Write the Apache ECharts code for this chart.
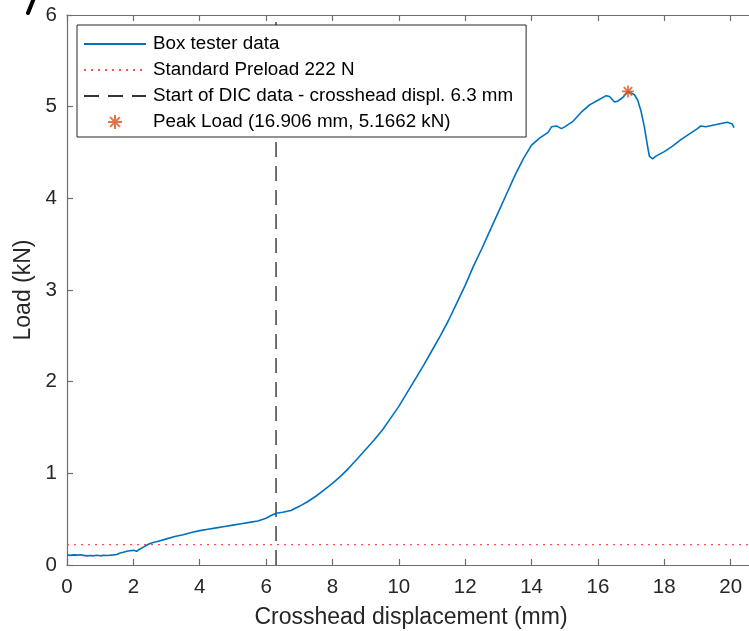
<!DOCTYPE html>
<html>
<head>
<meta charset="utf-8">
<script src="https://cdn.jsdelivr.net/npm/echarts@6/dist/echarts.min.js"></script>
<style>
  html, body { margin: 0; padding: 0; background: #fff; overflow: hidden; }
  #chart { width: 749px; height: 631px; }
</style>
</head>
<body>
<div id="chart"></div>
<script>
// Crosshead displacement (mm) and measured load (kN) from the box tester
const dispMm = [
  0, 0.1, 0.2, 0.3, 0.4, 0.5, 0.6, 0.7, 0.8, 0.9, 1.0, 1.1, 1.2, 1.3, 1.4, 1.5,
  1.6, 1.7, 1.8, 1.9, 2.0, 2.1, 2.2, 2.3, 2.4, 2.5, 2.6, 2.75, 3.0, 3.25, 3.5,
  3.75, 4.0, 4.25, 4.5, 4.75, 5.0, 5.25, 5.5, 5.75, 6.0, 6.15, 6.3, 6.5, 6.75,
  7.0, 7.25, 7.5, 7.75, 8.0, 8.25, 8.5, 8.75, 9.0, 9.25, 9.5, 9.75, 10.0, 10.25,
  10.5, 10.75, 11.0, 11.25, 11.5, 11.75, 12.0, 12.25, 12.5, 12.75, 13.0, 13.25,
  13.5, 13.75, 14.0, 14.25, 14.5, 14.6, 14.75, 14.9, 15.0, 15.25, 15.5, 15.75,
  16.0, 16.25, 16.35, 16.5, 16.6, 16.75, 16.906, 17.0, 17.1, 17.2, 17.3, 17.4,
  17.5, 17.55, 17.65, 17.75, 18.0, 18.25, 18.5, 18.75, 19.0, 19.1, 19.25, 19.5,
  19.75, 19.9, 20.05, 20.1
];
const loadKN = [
  0.11, 0.105, 0.11, 0.108, 0.112, 0.105, 0.1, 0.104, 0.1, 0.106, 0.1, 0.105, 0.103, 0.107, 0.11, 0.115,
  0.13, 0.14, 0.15, 0.155, 0.16, 0.15, 0.175, 0.195, 0.215, 0.235, 0.245, 0.26, 0.285, 0.31, 0.33,
  0.355, 0.375, 0.39, 0.405, 0.42, 0.435, 0.45, 0.465, 0.48, 0.51, 0.54, 0.565, 0.575, 0.595,
  0.64, 0.69, 0.75, 0.82, 0.89, 0.97, 1.06, 1.16, 1.26, 1.36, 1.47, 1.6, 1.73, 1.88,
  2.03, 2.18, 2.34, 2.5, 2.67, 2.86, 3.05, 3.26, 3.45, 3.65, 3.85, 4.05,
  4.25, 4.43, 4.58, 4.66, 4.72, 4.78, 4.79, 4.76, 4.78, 4.84, 4.94, 5.02,
  5.07, 5.12, 5.11, 5.05, 5.06, 5.1, 5.1662, 5.15, 5.13, 5.07, 4.95, 4.78,
  4.56, 4.46, 4.43, 4.46, 4.51, 4.57, 4.64, 4.7, 4.76, 4.79, 4.78, 4.8,
  4.82, 4.83, 4.81, 4.77
];

// Reference levels
const preloadKN = 0.222;
const dicStartMm = 6.3;
const peakPoint = [16.906, 5.1662];

const xTicks = { min: 0, max: 22, interval: 2 };
const yTicks = { min: 0, max: 6, interval: 1 };

const seriesNames = [
  'Box tester data',
  'Standard Preload 222 N',
  'Start of DIC data - crosshead displ. 6.3 mm',
  'Peak Load (16.906 mm, 5.1662 kN)'
];

const FONT = '"Liberation Sans", Arial, sans-serif';
const AXIS_GRAY = '#6e6e6e';
const TEXT_COLOR = '#262626';

const curve = dispMm.map((x, i) => [x, loadKN[i]]);
const asterisk = 'path://M0,-10L0,10M-10,0L10,0M-7,-7L7,7M-7,7L7,-7';
const noMarker = { opacity: 0 };

const chart = echarts.init(document.getElementById('chart'), null, { renderer: 'canvas' });

chart.setOption({
  backgroundColor: '#ffffff',
  animation: false,
  textStyle: { fontFamily: FONT },
  // the axes box continues past the right edge of the canvas
  grid: { left: 67, top: 15, width: 730, height: 550, containLabel: false, outerBoundsMode: 'none' },
  legend: {
    orient: 'vertical',
    left: 77,
    top: 25,
    data: [
      { name: seriesNames[0], itemStyle: noMarker },
      { name: seriesNames[1], itemStyle: noMarker },
      { name: seriesNames[2], itemStyle: noMarker },
      { name: seriesNames[3] }
    ],
    itemWidth: 62,
    itemHeight: 14,
    itemGap: 6,
    padding: [9, 13, 5, 6],
    borderColor: '#262626',
    borderWidth: 1,
    backgroundColor: '#ffffff',
    selectedMode: false,
    textStyle: { fontFamily: FONT, fontSize: 18.8, color: '#000', lineHeight: 20, padding: [0, 0, 0, 2] }
  },
  xAxis: [
    {
      type: 'value', position: 'bottom',
      min: xTicks.min, max: xTicks.max, interval: xTicks.interval,
      name: 'Crosshead displacement (mm)', nameLocation: 'middle', nameGap: 41,
      nameTextStyle: { fontFamily: FONT, fontSize: 23, color: TEXT_COLOR, padding: [0, 42, 0, 0] },
      axisLine: { show: true, lineStyle: { color: AXIS_GRAY, width: 1.2 } },
      axisTick: { show: true, inside: true, length: 6, lineStyle: { color: AXIS_GRAY, width: 1.2 } },
      axisLabel: { fontFamily: FONT, fontSize: 20.5, color: TEXT_COLOR, margin: 12 },
      splitLine: { show: false }
    },
    {
      type: 'value', position: 'top',
      min: xTicks.min, max: xTicks.max, interval: xTicks.interval,
      axisLine: { show: true, lineStyle: { color: AXIS_GRAY, width: 1.2 } },
      axisTick: { show: true, inside: true, length: 6, lineStyle: { color: AXIS_GRAY, width: 1.2 } },
      axisLabel: { show: false },
      splitLine: { show: false }
    }
  ],
  yAxis: {
    type: 'value',
    min: yTicks.min, max: yTicks.max, interval: yTicks.interval,
    name: 'Load (kN)', nameLocation: 'middle', nameGap: 31,
    nameTextStyle: { fontFamily: FONT, fontSize: 23, color: TEXT_COLOR },
    axisLine: { show: true, lineStyle: { color: AXIS_GRAY, width: 1.2 } },
    axisTick: { show: true, inside: true, length: 6, lineStyle: { color: AXIS_GRAY, width: 1.2 } },
    axisLabel: { fontFamily: FONT, fontSize: 20.5, color: TEXT_COLOR, margin: 10 },
    splitLine: { show: false }
  },
  series: [
    {
      name: seriesNames[0], type: 'line', data: curve,
      showSymbol: false, symbol: 'none', z: 3,
      lineStyle: { color: '#0072BD', width: 1.6 },
      itemStyle: { color: '#0072BD' }
    },
    {
      name: seriesNames[1], type: 'line',
      data: [[xTicks.min, preloadKN], [xTicks.max, preloadKN]],
      showSymbol: false, symbol: 'none', z: 2,
      lineStyle: { color: '#ff4d4d', width: 1.3, type: [2, 5] },
      itemStyle: { color: '#ff4d4d' }
    },
    {
      name: seriesNames[2], type: 'line',
      data: [[dicStartMm, yTicks.min], [dicStartMm, yTicks.max]],
      showSymbol: false, symbol: 'none', z: 2,
      lineStyle: { color: '#333333', width: 1.4, type: [15, 9] },
      itemStyle: { color: '#333333' }
    },
    {
      name: seriesNames[3], type: 'scatter', data: [peakPoint],
      symbol: asterisk, symbolSize: 12, z: 4,
      itemStyle: { color: 'rgba(0,0,0,0)', borderColor: '#D95319', borderWidth: 1.8 }
    }
  ],
  graphic: [
    {
      type: 'line', silent: true,
      shape: { x1: 34, y1: -2, x2: 28, y2: 13 },
      style: { stroke: '#000', lineWidth: 4, lineCap: 'round' }
    }
  ]
});
</script>
</body>
</html>
